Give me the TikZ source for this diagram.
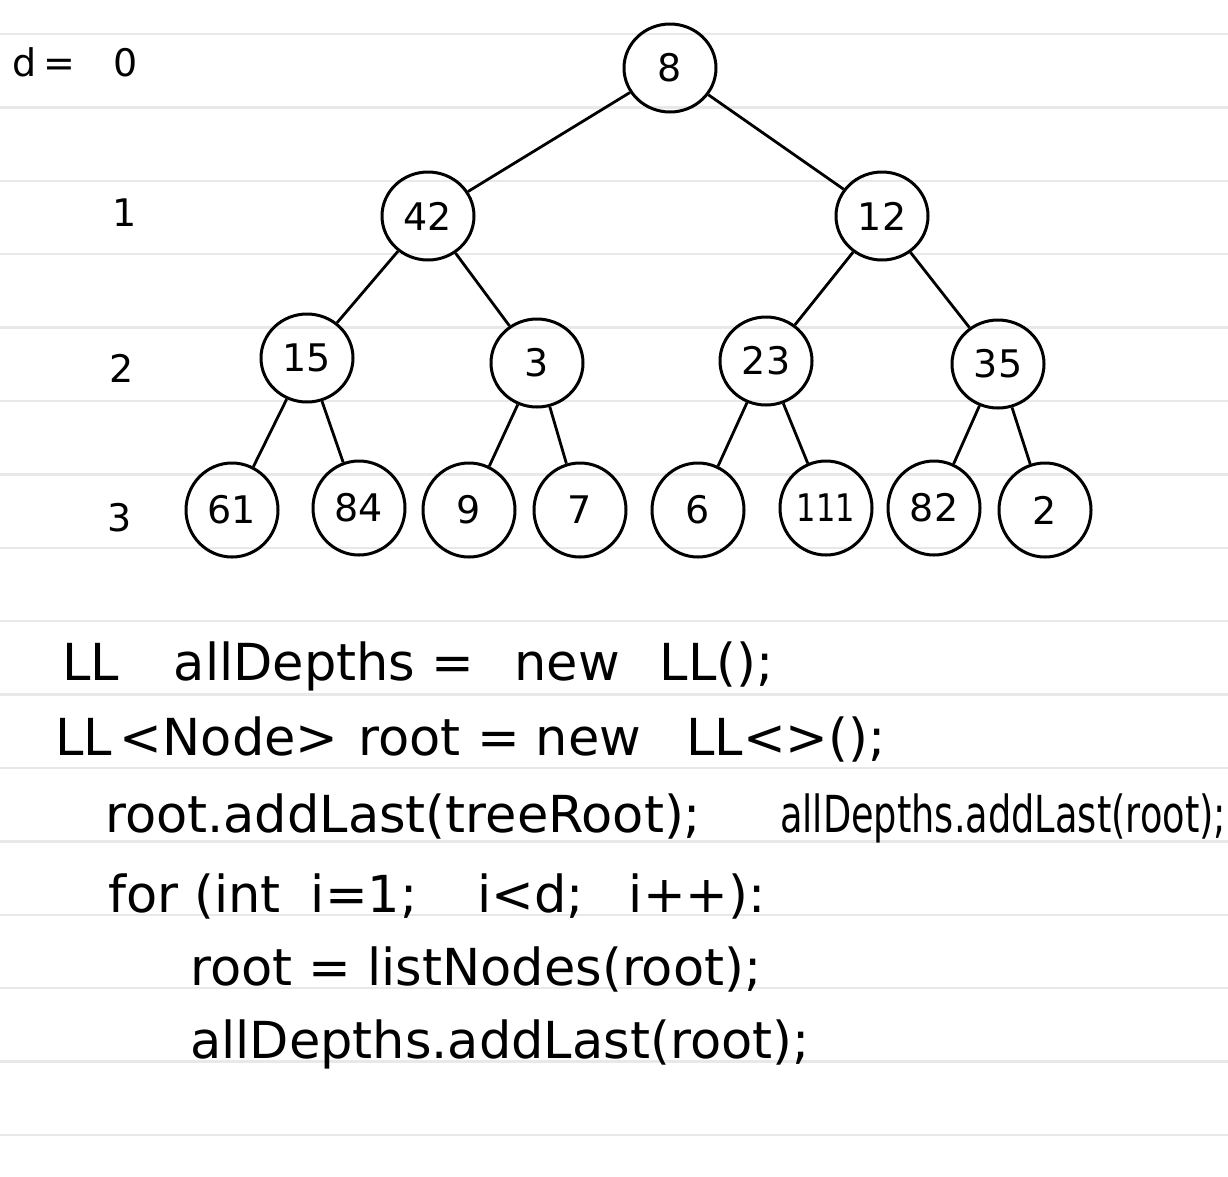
\documentclass[tikz,border=0pt]{standalone}
\usepackage{fontspec}
\setmainfont{DejaVu Sans}
\usetikzlibrary{shapes.geometric}
\begin{document}
\begin{tikzpicture}[x=1pt,y=-1pt,
  ruled/.style={draw=black!9, line width=2.5pt},
  tnode/.style={draw, ellipse, line width=3pt, minimum width=92pt, minimum height=88pt, inner sep=0pt, font=\fontsize{38}{42}\selectfont},
  leafnode/.style={tnode, minimum width=92pt, minimum height=94pt},
  edge/.style={line width=2.8pt},
  code/.style={anchor=base west, inner sep=0pt, font=\fontsize{51}{56}\selectfont},
  lvl/.style={font=\fontsize{38}{42}\selectfont, inner sep=0pt}]
\clip (0,0) rectangle (1228,1176);
\fill[white] (0,0) rectangle (1228,1176);
\foreach \k in {0,...,15} \draw[ruled] (0,{34+73.4*\k}) -- (1228,{34+73.4*\k});

% level labels
\node[lvl] (d0) at (75,62) {d\,=\quad 0};
\node[lvl] (d1) at (125,213) {1};
\node[lvl] (d2) at (122,368) {2};
\node[lvl] (d3) at (120,518) {3};

% tree
\node[tnode] (n8) at (670,68) {8};
\node[tnode] (n42) at (428,216) {42};
\node[tnode] (n12) at (882,216) {12};
\node[tnode] (n15) at (307,358) {15};
\node[tnode] (n3) at (537,363) {3};
\node[tnode] (n23) at (766,361) {23};
\node[tnode] (n35) at (998,364) {35};
\node[leafnode] (n61) at (232,510) {61};
\node[leafnode] (n84) at (359,508) {84};
\node[leafnode] (n9) at (469,510) {9};
\node[leafnode] (n7) at (580,510) {7};
\node[leafnode] (n6) at (698,510) {6};
\node[leafnode] (n111) at (826,508) {\scalebox{0.8}[1]{111}};
\node[leafnode] (n82) at (934,508) {82};
\node[leafnode] (n2) at (1045,510) {2};

\draw[edge] (n8) -- (n42);
\draw[edge] (n8) -- (n12);
\draw[edge] (n42) -- (n15);
\draw[edge] (n42) -- (n3);
\draw[edge] (n12) -- (n23);
\draw[edge] (n12) -- (n35);
\draw[edge] (n15) -- (n61);
\draw[edge] (n15) -- (n84);
\draw[edge] (n3) -- (n9);
\draw[edge] (n3) -- (n7);
\draw[edge] (n23) -- (n6);
\draw[edge] (n23) -- (n111);
\draw[edge] (n35) -- (n82);
\draw[edge] (n35) -- (n2);

% code
\node[code] (c1) at (62,680) {LL\hspace{55pt}allDepths =\hspace{40pt}new\hspace{40pt}LL();};
\node[code] (c2) at (55,755) {LL\hspace{8pt}<Node>\hspace{20pt}root = new\hspace{45pt}LL<>();};
\node[code] (c3) at (105,832) {root.addLast(treeRoot);};
\node[code] (c3b) at (780,832) {\scalebox{0.72}[1]{allDepths.addLast(root);}};
\node[code] (c4) at (108,912) {for (int\hspace{30pt}i=1;\hspace{60pt}i<d;\hspace{45pt}i++):};
\node[code] (c5) at (190,985) {root = listNodes(root);};
\node[code] (c6) at (190,1058) {allDepths.addLast(root);};
\end{tikzpicture}
\end{document}
